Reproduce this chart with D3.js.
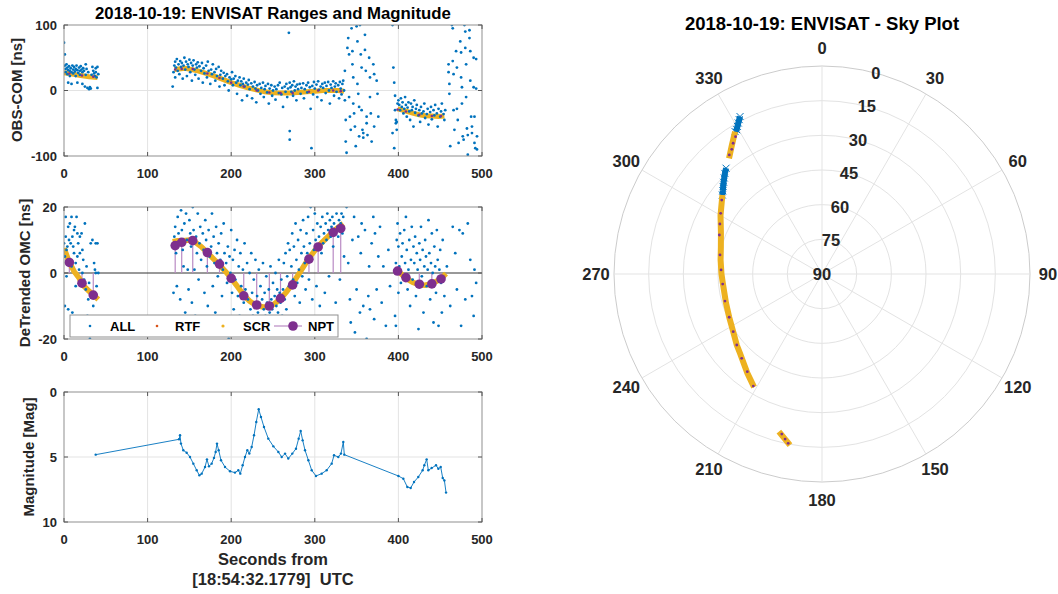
<!DOCTYPE html>
<html>
<head>
<meta charset="utf-8">
<script src="https://cdn.jsdelivr.net/npm/d3@7"></script>
<style>
body { margin: 0; background: #fff; }
text { font-family: "Liberation Sans", Arial, sans-serif; font-weight: bold; fill: #262626; white-space: pre; }
</style>
</head>
<body>
<script>
// ---------- data ----------
const xTicks = [0, 100, 200, 300, 400, 500];
const rangeTicks = [-100, 0, 100];
const omcTicks = [-20, 0, 20];
const magTicks = [0, 5, 10];
const legendNames = ["ALL", "RTF", "SCR", "NPT"];

// OBS-COM, all returns [t, ns]
const rangeAll = [
  [0,73],[1,55],[1,38],[2,33],[2,28],[3,40],[4,35],[4,25],[5,31],[5,12],[6,37],[7,30],[7,22],[8,34],[9,28],[9,10],
  [10,38],[11,32],[11,26],[12,36],[13,29],[14,33],[14,22],[15,38],[16,31],[16,12],[17,27],[18,35],[19,30],[19,24],
  [20,37],[21,32],[22,28],[22,10],[23,34],[24,30],[25,6],[26,24],[26,40],[27,33],[28,4],[29,28],[30,2],[31,5],[32,3],
  [33,24],[34,36],[35,30],[36,26],[37,22],[38,34],[38,28],[39,20],[40,36],[40,4],[41,25],
  [130,6],[131,28],[132,38],[133,44],[133,20],[134,35],[135,48],[136,30],[137,40],[138,25],[139,45],[140,36],[141,42],
  [142,18],[143,38],[144,50],[145,32],[146,44],[147,22],[148,40],[149,36],[150,47],[151,28],[152,42],[153,15],[154,38],
  [155,46],[156,32],[157,24],[158,40],[159,35],[160,43],[161,18],[162,37],[164,30],[165,42],[166,12],[167,34],[168,26],
  [170,38],[171,20],[172,44],[173,30],[175,10],[176,32],[177,25],[178,40],[180,28],[181,15],[182,33],[183,22],[185,36],
  [186,6],[187,24],[188,30],[190,18],[191,27],[192,8],[193,22],[195,25],[196,14],[197,0],[198,20],[200,17],[201,28],
  [202,8],[203,18],[205,22],[206,12],[207,-5],[208,15],[210,20],[211,8],[212,14],[213,-15],[214,10],[215,18],[216,6],
  [218,12],[219,-8],[220,9],[221,16],[222,2],[224,11],[225,-12],[226,6],[228,13],[229,3],[230,-18],[231,8],[232,0],
  [234,10],[235,-5],[236,4],[238,12],[239,-10],[240,2],[241,7],[243,-3],[244,10],[245,-20],[246,3],[248,8],[249,-8],
  [250,0],[252,6],[253,-14],[254,2],[256,8],[257,-4],[258,12],[260,-6],[261,4],[262,-25],[264,6],[265,-2],[266,10],
  [267,-10],[268,3],[269,88],[270,-62],[270,-75],[270,12],[271,5],[272,-2],[273,8],[274,-8],[275,14],[276,0],[277,6],
  [278,-15],[279,9],[280,2],[282,10],[283,-5],[284,4],[286,11],[287,-12],[288,2],[290,8],[291,-3],[292,12],[294,5],
  [295,-28],[296,-88],[297,7],[298,-6],[299,13],[300,3],[302,9],[303,-10],[304,14],[305,1],[307,6],[308,-15],[309,10],
  [310,4],[312,12],[313,-4],[314,7],[316,13],[317,0],[318,-20],[319,9],[320,4],[322,14],[323,-8],[324,6],[325,11],
  [326,-2],[328,8],[329,-12],[330,13],[331,3],[332,-6],[333,10],[334,15],[335,0],
  [336,30],[336,-15],[337,-45],[337,-78],[338,-95],[339,65],[340,80],[341,55],[341,-10],[342,-40],[343,-60],[344,95],
  [345,60],[345,40],[346,20],[346,-20],[347,-35],[348,-55],[349,-85],[350,98],[351,75],[351,10],[352,-5],[353,-25],
  [353,-70],[354,100],[355,55],[356,35],[356,-30],[357,-60],[358,-65],[358,-72],[360,85],[360,62],[361,30],[362,-40],
  [362,-50],[363,-68],[365,50],[366,20],[366,-10],[367,-35],[368,-78],[370,40],[371,25],[371,-55],[374,15],[375,-5],
  [376,-40],[393,100],[393,-65],[394,35],[395,12],[395,-88],[396,-8],[396,-30],[397,-45],[397,-50],[398,-48],[398,-60],
  [399,-20],
  [400,-15],[401,-22],[402,-30],[403,-12],[404,-25],[405,-18],[406,-35],[407,-28],[408,-10],[409,-22],[410,-40],
  [411,-26],[412,-18],[413,-32],[414,-45],[415,-20],[416,-30],[417,-25],[418,-55],[419,-15],[420,-34],[421,-28],
  [422,-22],[424,-38],[425,-30],[426,-48],[427,-25],[428,-35],[430,-32],[431,-20],[432,-42],[434,-36],[435,-28],
  [436,-52],[438,-33],[439,-25],[440,-44],[442,-30],[443,-38],[444,-22],[446,-35],[447,-55],[448,-28],[450,-40],
  [451,-32],[452,-20],[454,-36],[455,-45],[456,-30],
  [460,40],[460,28],[461,10],[461,-5],[462,-85],[464,100],[465,95],[465,45],[466,25],[466,-30],[467,-60],[469,60],
  [470,35],[470,-28],[471,-45],[472,-80],[474,75],[475,58],[475,20],[476,5],[476,-20],[477,-70],[478,-75],[479,100],
  [480,90],[480,65],[481,40],[481,-10],[482,-58],[483,-68],[483,-98],[485,92],[485,80],[486,60],[486,15],[487,-40],
  [488,-55],[488,-65],[490,50],[490,5],[491,-40],[491,-80],[492,-88],[493,48],[493,3],[494,-70],[494,-90]
];

// OBS-COM, screened returns, one array per pass
const rangeScr = [
  [[0,27],[10,25],[20,23],[30,21],[40,20]],
  [[132,32],[145,34],[160,30],[170,26],[180,22],[190,17],[200,12],[210,8],[220,4],[230,1],[240,-2],[250,-3.5],
   [260,-4],[270,-4],[280,-3],[290,-2],[300,-1],[310,0],[320,0],[328,0],[335,-1]],
  [[399,-28],[405,-30],[410,-32],[418,-35],[425,-37],[432,-38.5],[440,-39],[448,-39.5],[455,-39]]
];

// normal points
const nptT = [6.4,21.5,35,133,140.8,154,171.5,186,200,215,230.5,245.6,259,273.5,293,304,322,331,399,409,425,440,451];
const nptRange = [26,23,21,32,33,33,26,19,12,6,0,-3,-4,-4,-2,0,0,-1,-29,-32,-37,-39,-39];
const nptOmc = [3.2,-3.1,-6.7,8.3,9.3,9.8,6.2,2.7,-1.6,-6.9,-9.7,-10,-7.7,-3.6,4.2,7.9,12.3,13.5,0.6,-1.4,-3.4,-3.3,-1.8];

// detrended OMC, all returns [t, ns]
const omcAll = [
  [0,9],[1,5],[1,-10],[2,17],[2,11],[3,7],[3,-1],[4,8],[5,14],[5,-11],[6,10],[7,15],[7,4],[8,9],[9,2],[9,17],[10,11],
  [10,-12],[11,8],[12,6],[12,13],[13,14],[14,3],[14,-4],[15,17],[16,12],[16,5],[17,9],[18,1],[19,6],[19,11],[20,-3],
  [21,12],[22,0],[22,7],[23,4],[24,-2],[25,15],[26,-5],[27,2],[28,-13],[29,-8],[30,-3],[31,-20],[32,9],[33,-6],[34,10],
  [35,-10],[36,3],[37,1],[38,9],[38,0],[39,-4],[40,9],[41,0],
  [131,-6],[132,11],[133,14],[134,6],[135,-4],[136,17],[137,12],[138,9],[139,-8],[140,19],[141,13],[142,7],[143,2],
  [144,15],[145,-12],[146,18],[147,10],[148,1],[149,-5],[150,16],[151,12],[152,8],[153,-9],[154,20],[155,13],[156,1],
  [157,-13],[158,11],[159,6],[160,18],[161,-2],[162,9],[163,14],[164,4],[165,-15],[166,12],[167,7],[168,-6],[169,16],
  [170,10],[171,2],[172,-10],[173,13],[174,5],[175,-17],[176,8],[177,18],[178,-4],[179,11],[180,3],[181,-12],[182,14],
  [183,6],[184,-1],[185,9],[186,-18],[187,4],[188,12],[189,-7],[190,1],[191,15],[192,6],[193,-14],[194,3],[195,-3],
  [196,8],[197,-20],[198,5],[199,0],[200,13],[201,-6],[202,4],[203,-11],[204,7],[205,-2],[206,-16],[207,10],[208,-7],
  [209,2],[210,-13],[211,6],[212,-4],[213,-19],[214,1],[215,-9],[216,9],[217,-5],[218,-14],[219,3],[220,-8],[221,-17],
  [222,0],[223,-11],[224,6],[225,-6],[226,-13],[227,-2],[228,-9],[229,4],[230,-15],[231,-7],[232,-12],[233,1],
  [234,-10],[235,-4],[236,-14],[237,-8],[238,3],[239,-11],[240,-6],[241,-13],[242,-1],[243,-9],[244,-15],[245,-5],
  [246,-12],[247,2],[248,-8],[249,-11],[250,-3],[251,-14],[252,-7],[253,0],[254,-10],[255,-5],[256,-12],[257,4],
  [258,-6],[259,-9],[260,-2],[261,-13],[262,-5],[263,3],[264,-8],[265,6],[266,-11],[267,-1],[268,9],[269,-4],[270,7],
  [271,-16],[272,2],[273,12],[274,-2],[275,8],[276,-7],[277,15],[278,4],[279,-3],[280,10],[281,1],[282,-9],[283,13],
  [284,6],[285,-1],[286,16],[287,8],[288,3],[289,-5],[290,12],[291,6],[292,17],[293,-2],[294,9],[295,20],[296,4],
  [297,-8],[298,13],[299,7],[300,18],[301,10],[302,-4],[303,15],[304,8],[305,11],[306,-10],[307,14],[308,6],[309,17],
  [310,9],[311,12],[312,-6],[313,15],[314,10],[315,18],[316,13],[317,-1],[318,16],[319,11],[320,14],[321,17],[322,8],
  [323,15],[324,12],[325,-9],[326,18],[327,14],[328,11],[329,16],[330,-2],[331,15],[332,18],[333,12],[334,17],[335,5],
  [338,20],[340,3],[342,-8],[343,-15],[345,10],[347,17],[348,-18],[350,-5],[352,11],[354,-12],[355,6],[356,15],
  [358,-10],[360,13],[362,-20],[364,-7],[365,2],[366,-11],[368,9],[370,17],[371,-14],[372,12],[374,-5],[376,5],
  [378,14],[380,-9],[382,2],[385,-16],[388,7],[390,-4],
  [396,-13],[397,3],[397,-16],[398,10],[399,15],[400,-6],[400,8],[401,2],[402,12],[403,-3],[404,5],[405,9],[406,-1],
  [407,13],[408,3],[409,17],[410,7],[411,-5],[412,1],[413,10],[414,-10],[415,4],[416,14],[417,-2],[418,8],[419,3],
  [420,11],[421,-7],[422,6],[423,1],[424,-17],[425,9],[426,4],[427,14],[428,-1],[429,7],[430,-12],[431,2],[432,10],
  [433,5],[434,-4],[435,1],[436,16],[437,6],[438,-8],[439,3],[440,12],[441,0],[442,-15],[443,8],[444,2],[445,-6],
  [446,13],[447,4],[448,-16],[449,1],[450,7],[451,-3],[452,-12],[453,10],[455,-7],
  [458,2],[462,-10],[465,14],[468,6],[470,-5],[473,13],[475,-16],[477,12],[480,-8],[483,15],[486,4],[488,-7],
  [490,-13],[491,1],[493,-3]
];

const omcScr = [
  [[0,7.5],[6,3.5],[12,0.5],[18,-1.5],[24,-4],[30,-5.5],[36,-6.8],[41,-8]],
  [[130,9.5],[136,9.8],[142,9.8],[150,10],[156,9.5],[164,8],[171,6.3],[178,4.5],[186,2.4],[193,0.5],[200,-1.6],
   [208,-4.3],[215,-6.7],[222,-8.5],[230,-9.8],[238,-10.3],[245,-10.2],[252,-9.3],[259,-7.8],[266,-5.8],[273,-3.4],
   [283,0.5],[293,4.5],[300,6.8],[306,8.6],[314,10.6],[322,12.5],[328,13.8],[334,15]],
  [[397,1.5],[403,-0.2],[409,-1.6],[417,-2.8],[425,-3.6],[432,-3.7],[440,-3.2],[447,-2.3],[453,-1.2],[457,-0.2]]
];

// magnitude [t, mag]
const magT = [37.9,137.6,138.8,139.9,142.7,146.7,150.7,154.7,158.7,161.9,164.7,168.7,171,173.4,176.6,179.4,181.4,183,
  185,187.8,192.6,198.6,204.5,208.5,210.9,213.7,216.5,219.3,221.7,224.5,227.3,230,232.9,235.6,239.2,244.4,250.4,256.4,
  260.4,264.4,268.3,273.1,277.5,280.7,283.1,285.5,288.3,292.3,296.3,301.4,308.2,314.2,320.2,323,328.1,331.3,334.1,335.3,
  400,405.9,410.7,414.7,418.7,423.8,429,431,433.8,435.8,439.8,445,447.8,450.6,453,455,457];
const magV = [4.82,3.64,3.33,3.97,4.48,4.67,5.0,5.51,6.02,6.41,6.28,5.77,5.18,5.72,5.51,5.07,4.61,3.97,
  4.48,5.25,5.77,6.1,6.2,6.02,6.28,5.64,5.0,4.48,4.74,4.23,3.33,2.31,1.33,1.92,2.69,3.59,4.18,4.61,
  5.0,4.74,5.12,4.74,4.36,3.59,3.0,3.72,4.48,5.25,6.02,6.46,6.28,6.02,5.51,4.87,5.0,4.74,3.85,4.82,
  6.46,6.67,7.31,7.38,6.92,6.54,6.02,5.64,5.18,6.02,5.85,5.64,5.9,5.77,6.62,6.8,7.74];

// sky plot [azimuth deg, elevation deg]
const skyAzTicks = [0, 30, 60, 90, 120, 150, 180, 210, 240, 270, 300, 330];
const skyElTicks = [0, 15, 30, 45, 60, 75, 90];
const skyAll = [
  [[332.5,13.2],[331.8,14.2],[331,15.3],[330.2,16.4],[329.4,17.5],[328.6,17.8]],
  [[317.8,28.2],[316,29.5],[314.5,30.7],[313,31.8],[311.5,32.9],[310,34],[308.4,35]]
];
const skyScr = [
  [[328.6,17.8],[325,22],[321.2,25.8]],
  [[308.4,35],[300,39.3],[292.1,42.8],[285,44.7],[277.9,45.7],[270,46.5],[264.8,46.9],[253.2,46.6],[245,45.7],
   [237.9,44.4],[230.2,42],[226.1,40.7],[217,36.3],[211,32.9]],
  [[195.3,19.3],[190.6,14.7]]
];
const skyNpt = [[327.8,19.8],[325.8,21.6],[324.1,23.4],[322.1,24.7],[306.4,36.1],[300.9,38.9],[296.1,40.8],
  [290.8,42.5],[280.6,45.1],[272.3,46.3],[264.2,46.8],[254.4,46.4],[245,45.7],[237,44.2],[230.2,42],[223.6,39.6],
  [217.4,36.8],[211.5,33.1],[194.1,18.6],[192.6,16.8],[191.3,15.3]];

// ---------- chart ----------
const blue = "#0072BD", orange = "#EDB120", red = "#D95319", purple = "#7E2F8E";
const gridColor = "#e3e3e3", boxColor = "#8f8f8f";

const svg = d3.select("body").append("svg").attr("width", 1058).attr("height", 594);

const xScale = d3.scaleLinear().domain([0, 500]).range([64, 482]);

function frame(name, yScale, yTicks, gridYs) {
  const g = svg.append("g");
  const [y0, y1] = [d3.min(yScale.range()), d3.max(yScale.range())];
  g.append("rect").attr("x", 64).attr("y", y0).attr("width", 418).attr("height", y1 - y0).attr("fill", "#fff");
  g.selectAll(".gx").data(xTicks.slice(1, -1)).enter().append("line")
    .attr("x1", (d) => xScale(d)).attr("x2", (d) => xScale(d)).attr("y1", y0).attr("y2", y1)
    .attr("stroke", gridColor).attr("stroke-width", 1);
  g.selectAll(".gy").data(gridYs).enter().append("line")
    .attr("x1", 64).attr("x2", 482).attr("y1", (d) => yScale(d)).attr("y2", (d) => yScale(d))
    .attr("stroke", gridColor).attr("stroke-width", 1);
  svg.append("clipPath").attr("id", "clip-" + name).append("rect")
    .attr("x", 64).attr("y", y0).attr("width", 418).attr("height", y1 - y0);
  return g;
}

function axes(yScale, yTicks) {
  const g = svg.append("g");
  const [y0, y1] = [d3.min(yScale.range()), d3.max(yScale.range())];
  g.append("rect").attr("x", 64).attr("y", y0).attr("width", 418).attr("height", y1 - y0)
    .attr("fill", "none").attr("stroke", boxColor).attr("stroke-width", 1);
  // inward ticks
  xTicks.forEach((t) => {
    g.append("line").attr("x1", xScale(t)).attr("x2", xScale(t)).attr("y1", y1).attr("y2", y1 - 4).attr("stroke", "#555");
    g.append("line").attr("x1", xScale(t)).attr("x2", xScale(t)).attr("y1", y0).attr("y2", y0 + 4).attr("stroke", "#555");
  });
  yTicks.forEach((t) => {
    g.append("line").attr("x1", 64).attr("x2", 68).attr("y1", yScale(t)).attr("y2", yScale(t)).attr("stroke", "#555");
    g.append("line").attr("x1", 482).attr("x2", 478).attr("y1", yScale(t)).attr("y2", yScale(t)).attr("stroke", "#555");
  });
  g.selectAll(".ty").data(yTicks).enter().append("text")
    .attr("x", 57).attr("y", (d) => yScale(d)).attr("dy", "0.35em")
    .attr("text-anchor", "end").attr("font-size", 13).text((d) => d);
  g.selectAll(".tx").data(xTicks).enter().append("text")
    .attr("x", (d) => xScale(d)).attr("y", y1 + 17).attr("dy", "0.35em")
    .attr("text-anchor", "middle").attr("font-size", 13).text((d) => d);
}

function ylabel(text, x, y) {
  svg.append("text").attr("transform", "translate(" + x + "," + y + ") rotate(-90)")
    .attr("text-anchor", "middle").attr("dy", "0.35em").attr("font-size", 15).text(text);
}

// panel 1: OBS-COM
const y1Scale = d3.scaleLinear().domain([-100, 100]).range([156, 25]);
frame("p1", y1Scale, rangeTicks, [0]);
const p1 = svg.append("g").attr("clip-path", "url(#clip-p1)");
p1.selectAll(".scr").data(rangeScr).enter().append("path")
  .attr("d", d3.line().x((d) => xScale(d[0])).y((d) => y1Scale(d[1])))
  .attr("fill", "none").attr("stroke", orange).attr("stroke-width", 5);
p1.selectAll(".all").data(rangeAll).enter().append("circle")
  .attr("cx", (d) => xScale(d[0])).attr("cy", (d) => y1Scale(d[1])).attr("r", 1.4).attr("fill", blue);
p1.selectAll(".npt").data(nptT).enter().append("circle")
  .attr("cx", (d) => xScale(d)).attr("cy", (d, i) => y1Scale(nptRange[i])).attr("r", 1.3).attr("fill", purple);
axes(y1Scale, rangeTicks);
svg.append("text").attr("x", 273).attr("y", 13).attr("dy", "0.35em").attr("text-anchor", "middle")
  .attr("font-size", 16.8).style("fill", "#000").text("2018-10-19: ENVISAT Ranges and Magnitude");
ylabel("OBS-COM [ns]", 17, 90);

// panel 2: detrended OMC
const y2Scale = d3.scaleLinear().domain([-20, 20]).range([339, 207]);
frame("p2", y2Scale, omcTicks, []);
const p2 = svg.append("g").attr("clip-path", "url(#clip-p2)");
p2.append("line").attr("x1", 64).attr("x2", 482).attr("y1", y2Scale(0)).attr("y2", y2Scale(0))
  .attr("stroke", "#333").attr("stroke-width", 1);
p2.selectAll(".stem").data(nptT).enter().append("line")
  .attr("x1", (d) => xScale(d)).attr("x2", (d) => xScale(d))
  .attr("y1", y2Scale(0)).attr("y2", (d, i) => y2Scale(nptOmc[i]))
  .attr("stroke", "#b98ac4").attr("stroke-width", 1.2);
p2.selectAll(".scr").data(omcScr).enter().append("path")
  .attr("d", d3.line().x((d) => xScale(d[0])).y((d) => y2Scale(d[1])))
  .attr("fill", "none").attr("stroke", orange).attr("stroke-width", 5.5);
p2.selectAll(".all").data(omcAll).enter().append("circle")
  .attr("cx", (d) => xScale(d[0])).attr("cy", (d) => y2Scale(d[1])).attr("r", 1.4).attr("fill", blue);
p2.selectAll(".npt").data(nptT).enter().append("circle")
  .attr("cx", (d) => xScale(d)).attr("cy", (d, i) => y2Scale(nptOmc[i])).attr("r", 4.8).attr("fill", purple);
axes(y2Scale, omcTicks);
ylabel("DeTrended OMC [ns]", 25, 273);

// legend
const lg = svg.append("g");
lg.append("rect").attr("x", 70).attr("y", 315).attr("width", 268).attr("height", 22)
  .attr("fill", "#fff").attr("stroke", "#8f8f8f");
const lgX = [110, 175, 243, 308];
lg.selectAll(".lt").data(legendNames).enter().append("text")
  .attr("x", (d, i) => lgX[i]).attr("y", 326).attr("dy", "0.35em").attr("font-size", 13).style("fill", "#000").text((d) => d);
lg.append("circle").attr("cx", 90).attr("cy", 326).attr("r", 1.3).attr("fill", blue);
lg.append("circle").attr("cx", 157).attr("cy", 326).attr("r", 1.3).attr("fill", red);
lg.append("circle").attr("cx", 223).attr("cy", 326).attr("r", 1.6).attr("fill", orange);
lg.append("line").attr("x1", 274).attr("x2", 302).attr("y1", 326).attr("y2", 326).attr("stroke", "#b98ac4").attr("stroke-width", 1.2);
lg.append("circle").attr("cx", 293).attr("cy", 326).attr("r", 4.8).attr("fill", purple);

// panel 3: magnitude
const y3Scale = d3.scaleLinear().domain([0, 10]).range([392, 522]);
frame("p3", y3Scale, magTicks, [5]);
const p3 = svg.append("g").attr("clip-path", "url(#clip-p3)");
p3.append("path").datum(magT)
  .attr("d", d3.line().x((d) => xScale(d)).y((d, i) => y3Scale(magV[i])))
  .attr("fill", "none").attr("stroke", blue).attr("stroke-width", 0.9);
p3.selectAll(".m").data(magT).enter().append("circle")
  .attr("cx", (d) => xScale(d)).attr("cy", (d, i) => y3Scale(magV[i])).attr("r", 1.2).attr("fill", blue);
axes(y3Scale, magTicks);
ylabel("Magnitude [Mag]", 29, 457);
svg.append("text").attr("x", 273).attr("y", 559).attr("dy", "0.35em").attr("text-anchor", "middle")
  .attr("font-size", 16.5).text("Seconds from");
svg.append("text").attr("x", 273).attr("y", 579).attr("dy", "0.35em").attr("text-anchor", "middle")
  .attr("font-size", 16.5).text("[18:54:32.1779]\u00A0\u00A0UTC");

// sky plot
const cx = 822, cy = 274, R = 208;
const rScale = d3.scaleLinear().domain([90, 0]).range([0, R]);
const px = (az, el) => cx + rScale(el) * Math.sin(az * Math.PI / 180);
const py = (az, el) => cy - rScale(el) * Math.cos(az * Math.PI / 180);
const sky = svg.append("g");
sky.selectAll(".ring").data(skyElTicks.slice(0, -1)).enter().append("circle")
  .attr("cx", cx).attr("cy", cy).attr("r", (d) => rScale(d))
  .attr("fill", "none").attr("stroke", (d) => (d === 0 ? "#cccccc" : gridColor)).attr("stroke-width", 1);
sky.selectAll(".spoke").data(skyAzTicks).enter().append("line")
  .attr("x1", cx).attr("y1", cy).attr("x2", (d) => px(d, 0)).attr("y2", (d) => py(d, 0))
  .attr("stroke", gridColor).attr("stroke-width", 1);
sky.selectAll(".az").data(skyAzTicks).enter().append("text")
  .attr("x", (d) => cx + 226 * Math.sin(d * Math.PI / 180))
  .attr("y", (d) => cy - 226 * Math.cos(d * Math.PI / 180))
  .attr("dy", "0.35em").attr("text-anchor", "middle").attr("font-size", 16.5).text((d) => d);
sky.selectAll(".el").data(skyElTicks).enter().append("text")
  .attr("x", (d) => px(15, d)).attr("y", (d) => py(15, d))
  .attr("dy", "0.35em").attr("text-anchor", "middle").attr("font-size", 16.5).text((d) => d);
const skyLine = d3.line().x((d) => px(d[0], d[1])).y((d) => py(d[0], d[1]));
sky.selectAll(".sa").data(skyAll).enter().append("path").attr("d", skyLine)
  .attr("fill", "none").attr("stroke", blue).attr("stroke-width", 6);
skyAll.flat().forEach((d) => {
  const x = px(d[0], d[1]), y = py(d[0], d[1]);
  sky.append("path").attr("d", `M${x - 3.5},${y - 3.5}L${x + 3.5},${y + 3.5}M${x - 3.5},${y + 3.5}L${x + 3.5},${y - 3.5}`)
    .attr("stroke", blue).attr("stroke-width", 1);
});
sky.selectAll(".ss").data(skyScr).enter().append("path").attr("d", skyLine)
  .attr("fill", "none").attr("stroke", orange).attr("stroke-width", 6);
sky.selectAll(".sn").data(skyNpt).enter().append("circle")
  .attr("cx", (d) => px(d[0], d[1])).attr("cy", (d) => py(d[0], d[1])).attr("r", 1.4).attr("fill", purple);
svg.append("text").attr("x", 822).attr("y", 24).attr("dy", "0.35em").attr("text-anchor", "middle")
  .attr("font-size", 18.5).style("fill", "#000").text("2018-10-19: ENVISAT - Sky Plot");
</script>
</body>
</html>
